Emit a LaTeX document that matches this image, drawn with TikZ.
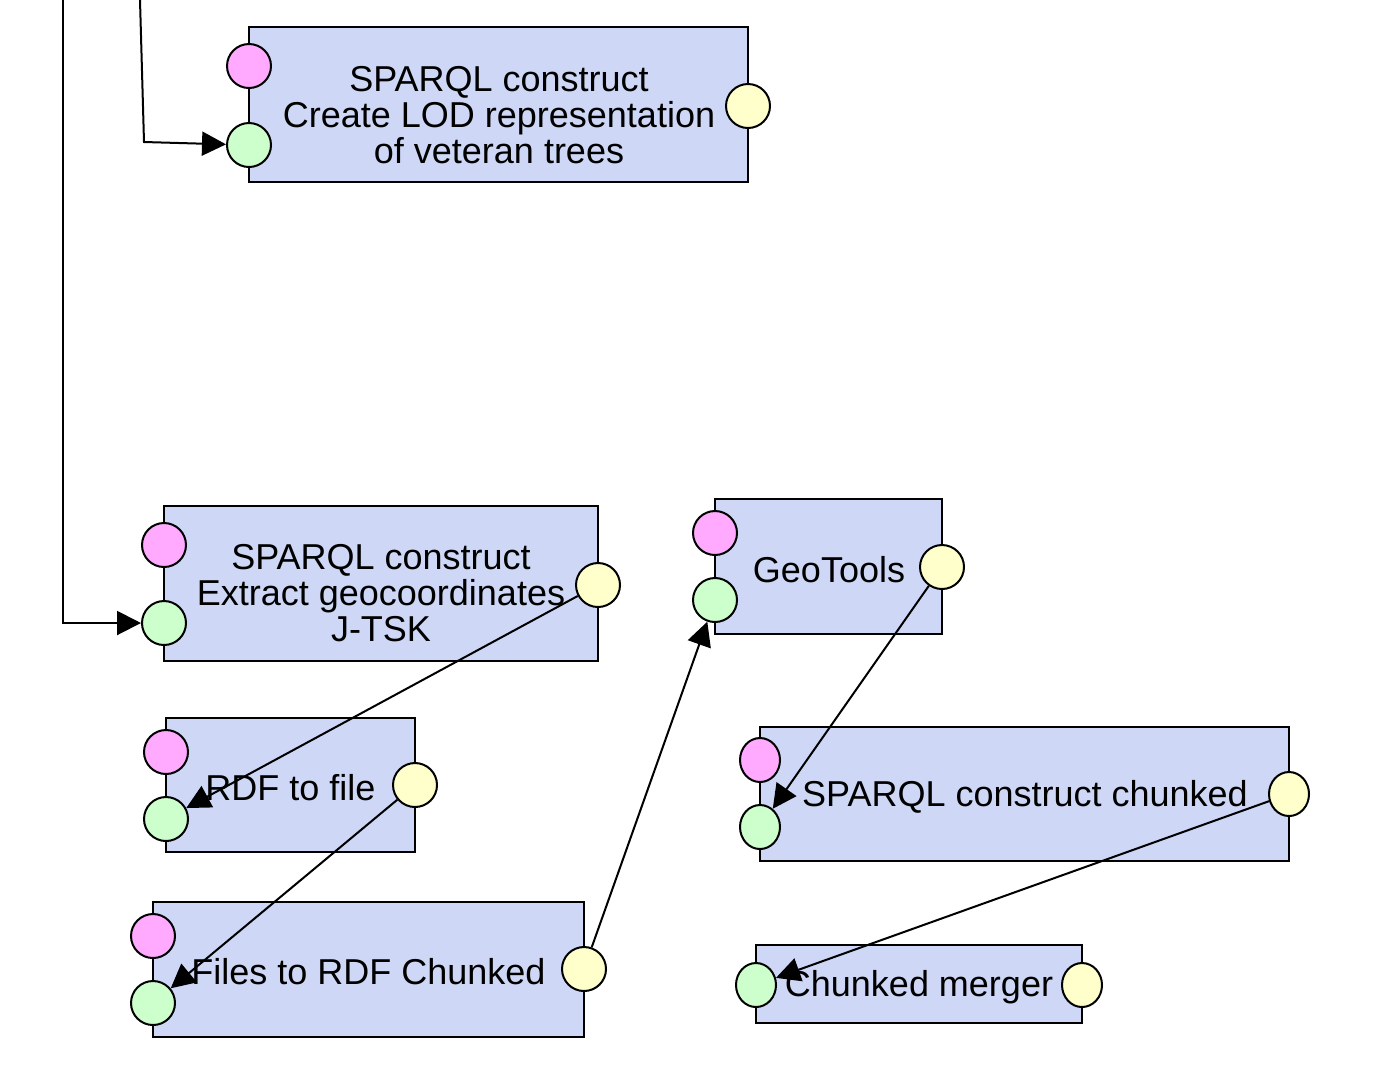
\documentclass[tikz,border=0pt]{standalone}
\usepackage{fontspec}
\setmainfont{Liberation Sans}
\usetikzlibrary{arrows.meta,shapes.geometric}
\definecolor{boxblue}{RGB}{206,216,246}
\definecolor{cfgpink}{RGB}{255,170,255}
\definecolor{ingreen}{RGB}{204,255,204}
\definecolor{outyellow}{RGB}{255,255,204}
\tikzstyle{blk}=[draw,fill=boxblue,line width=1pt,inner sep=0]
\tikzstyle{txt}=[align=center,font=\fontsize{18}{18}\selectfont,inner sep=0]
\tikzstyle{cfgport}=[draw,circle,fill=cfgpink,line width=1pt,minimum size=22pt,inner sep=0]
\tikzstyle{inport}=[cfgport,fill=ingreen]
\tikzstyle{outport}=[cfgport,fill=outyellow]
\tikzstyle{ellport}=[draw,ellipse,line width=1pt,minimum width=20pt,minimum height=22pt,inner sep=0]

\begin{document}
\begin{tikzpicture}[x=0.5pt,y=-0.5pt]
	\useasboundingbox (0,0) rectangle (1374,1073);

                        % boxes
                        \node[blk,minimum width=249.5pt,minimum height=77.5pt] (a) at (498.5,104.5) {};
                        \node[blk,minimum width=217pt,minimum height=77.5pt] (b) at (381,583.5) {};
                        \node[blk,minimum width=124.5pt,minimum height=67pt] (c) at (290.5,785) {};
                        \node[blk,minimum width=215.5pt,minimum height=67.5pt] (d) at (368.5,969.5) {};
                        \node[blk,minimum width=113.5pt,minimum height=67.5pt] (e) at (828.5,566.5) {};
                        \node[blk,minimum width=264.5pt,minimum height=67pt] (f) at (1024.5,794) {};
                        \node[blk,minimum width=163pt,minimum height=39pt] (g) at (919,984) {};

                        \node[txt] (at) at (499,115) {SPARQL construct\\Create LOD representation\\of veteran trees};
                        \node[txt] (bt) at (381,593) {SPARQL construct\\Extract geocoordinates\\J-TSK};
                        \node[txt] (ct) at (290.5,788) {RDF to file};
                        \node[txt] (dt) at (368.5,972) {Files to RDF Chunked};
                        \node[txt] (et) at (829,570) {GeoTools};
                        \node[txt] (ft) at (1025,797) {SPARQL construct chunked};
                        \node[txt] (gt) at (919,987) {Chunked merger};

                        % ports
                        \node[cfgport] (ap) at (249,66) {};
                        \node[inport] (ai) at (249,145) {};
                        \node[outport] (ao) at (748,106) {};

                        \node[cfgport] (bp) at (164,545) {};
                        \node[inport] (bi) at (164,623) {};
                        \node[outport] (bo) at (598,585) {};

                        \node[cfgport] (cp) at (166,752) {};
                        \node[inport] (ci) at (166,819) {};
                        \node[outport] (co) at (415,785) {};

                        \node[cfgport] (dp) at (153,936) {};
                        \node[inport] (di) at (153,1003) {};
                        \node[outport] (do) at (584,969) {};

                        \node[cfgport] (ep) at (715,533) {};
                        \node[inport] (ei) at (715,600) {};
                        \node[outport] (eo) at (942,567) {};

                        \node[ellport,fill=cfgpink] (fp) at (760,760) {};
                        \node[ellport,fill=ingreen] (fi) at (760,827) {};
                        \node[ellport,fill=outyellow] (fo) at (1289,794) {};

                        \node[ellport,fill=ingreen] (gi) at (756,985) {};
                        \node[ellport,fill=outyellow] (go) at (1082,985) {};

                        \coordinate (t1) at (63,0);
                        \coordinate (k1) at (63,623);
                        \coordinate (t2) at (140,0);
                        \coordinate (k2) at (144,142);

                        \draw[line width=1pt,-{Triangle[length=12pt,width=12pt]}]
                        (t1) -- (k1) -- (bi);
                        \draw[line width=1pt,-{Triangle[length=12pt,width=12pt]}]
                        (t2) -- (k2) -- (ai);

                        \draw[line width=1pt,-{Triangle[length=12pt,width=12pt]}]
                        (bo) -- (ci)
                        ;
                        \draw[line width=1pt,-{Triangle[length=12pt,width=12pt]}]
                        (co) -- (di)
                        ;
                        \draw[line width=1pt,-{Triangle[length=12pt,width=12pt]}]
                        (do) -- (ei)
                        ;
                        \draw[line width=1pt,-{Triangle[length=12pt,width=12pt]}]
                        (eo) -- (fi)
                        ;
                        \draw[line width=1pt,-{Triangle[length=12pt,width=12pt]}]
                        (fo) -- (gi)
                        ;

    \end{tikzpicture}
\end{document}
